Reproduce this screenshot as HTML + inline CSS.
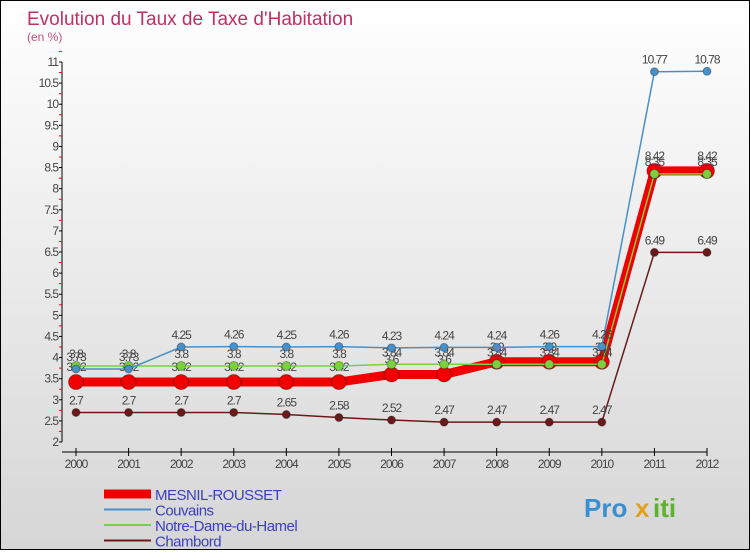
<!DOCTYPE html>
<html><head><meta charset="utf-8"><style>
body{margin:0;width:750px;height:550px;overflow:hidden;font-family:"Liberation Sans",sans-serif}
#wrap{position:relative;width:748px;height:548px;border:1px solid #000;background:linear-gradient(#fff,#d6d6d6)}
</style></head><body>
<div id="wrap">
<svg id="chart" width="748" height="548">
<text x="26" y="24" font-size="19" fill="#c03060">Evolution du Taux de Taxe d'Habitation</text>
<text x="26" y="40" font-size="12" fill="#c05080">(en %)</text>
<g id="axes"></g><g id="series"></g><g id="legend"></g>
<g font-size="26" font-weight="bold">
<text x="583" y="516" fill="#3a8fd0">Pro</text><text x="634" y="516" fill="#e0a020">x</text><text x="652" y="516" fill="#60b030">iti</text></g>
</svg></div>
<script>
const years=[2000,2001,2002,2003,2004,2005,2006,2007,2008,2009,2010,2011,2012];
const yTicks=[2,2.5,3,3.5,4,4.5,5,5.5,6,6.5,7,7.5,8,8.5,9,9.5,10,10.5,11];
const mesnil=[3.42,3.42,3.42,3.42,3.42,3.42,3.6,3.6,3.9,3.9,3.9,8.42,8.42];
const couvains=[3.73,3.73,4.25,4.26,4.25,4.26,4.23,4.24,4.24,4.26,4.26,10.77,10.78];
const notre=[3.8,3.8,3.8,3.8,3.8,3.8,3.84,3.84,3.84,3.84,3.84,8.35,8.35];
const chambord=[2.7,2.7,2.7,2.7,2.65,2.58,2.52,2.47,2.47,2.47,2.47,6.49,6.49];
const seriesNames=["MESNIL-ROUSSET","Couvains","Notre-Dame-du-Hamel","Chambord"];
const NS="http://www.w3.org/2000/svg";
const X=i=>75+i*(706-75)/12;
const Y=v=>441-(v-2)*(441-61)/9;
function mk(tag,attrs,parent,txt){const e=document.createElementNS(NS,tag);for(const k in attrs)e.setAttribute(k,attrs[k]);if(txt!==undefined)e.textContent=txt;parent.appendChild(e);return e;}
const ax=document.getElementById('axes');
let a=mk('line',{x1:61,y1:61,x2:61,y2:441,stroke:'#000'},ax);


a=mk('line',{x1:61,y1:451,x2:706,y2:451,stroke:'#000'},ax);


yTicks.forEach(v=>{mk('line',{x1:58,y1:Y(v),x2:61,y2:Y(v),stroke:'#000'},ax);
 mk('line',{x1:58,y1:Y(v+0.25),x2:61,y2:Y(v+0.25),stroke:'#f00'},ax);
 const t=mk('text',{x:57,y:Y(v)+4,'font-size':12,fill:'#444','text-anchor':'end','letter-spacing':'-1'},ax,String(v));
 
 });
years.forEach((y,i)=>{mk('line',{x1:X(i),y1:447,x2:X(i),y2:455,stroke:'#000'},ax);
 const t=mk('text',{x:X(i),y:467,'font-size':12,fill:'#444','text-anchor':'middle','letter-spacing':'-1'},ax,String(y));
 
 });
const sg=document.getElementById('series');
function draw(data,color,w,r,name,labOff){
 const g=mk('g',{},sg);
 
 
 mk('polyline',{points:data.map((v,i)=>X(i)+','+Y(v)).join(' '),fill:'none',stroke:color,'stroke-width':w},g);
 data.forEach((v,i)=>{const c=mk('circle',{cx:X(i),cy:Y(v),r:r,fill:color,stroke:'rgba(0,0,0,0.3)'},g);
  
  
  mk('text',{x:X(i),y:Y(v)-labOff,'font-size':12,fill:'#444','text-anchor':'middle','letter-spacing':'-1'},g,String(v));});
}
draw(chambord,'#6a1a1a',1.5,4,'series-chambord',8);
draw(mesnil,'#f00000',9,7.5,'series-mesnil-rousset',11);
draw(notre,'#7ad040',1.5,4.5,'series-notre-dame-du-hamel',8);
draw(couvains,'#4a90c8',1.5,4,'series-couvains',8);
const lg=document.getElementById('legend');
const lc=['#f00000','#4a90c8','#7ad040','#6a1a1a'],lw=[9,2,2,2];
seriesNames.forEach((n,i)=>{const y=493+i*15.5;const g=mk('g',{},lg);
 
 
 mk('line',{x1:103,y1:y,x2:150,y2:y,stroke:lc[i],'stroke-width':lw[i]},g);
 mk('text',{x:154,y:y+6,'font-size':15,fill:'#3a40c0','letter-spacing':'-0.5'},g,n);});
</script>
</body></html>
